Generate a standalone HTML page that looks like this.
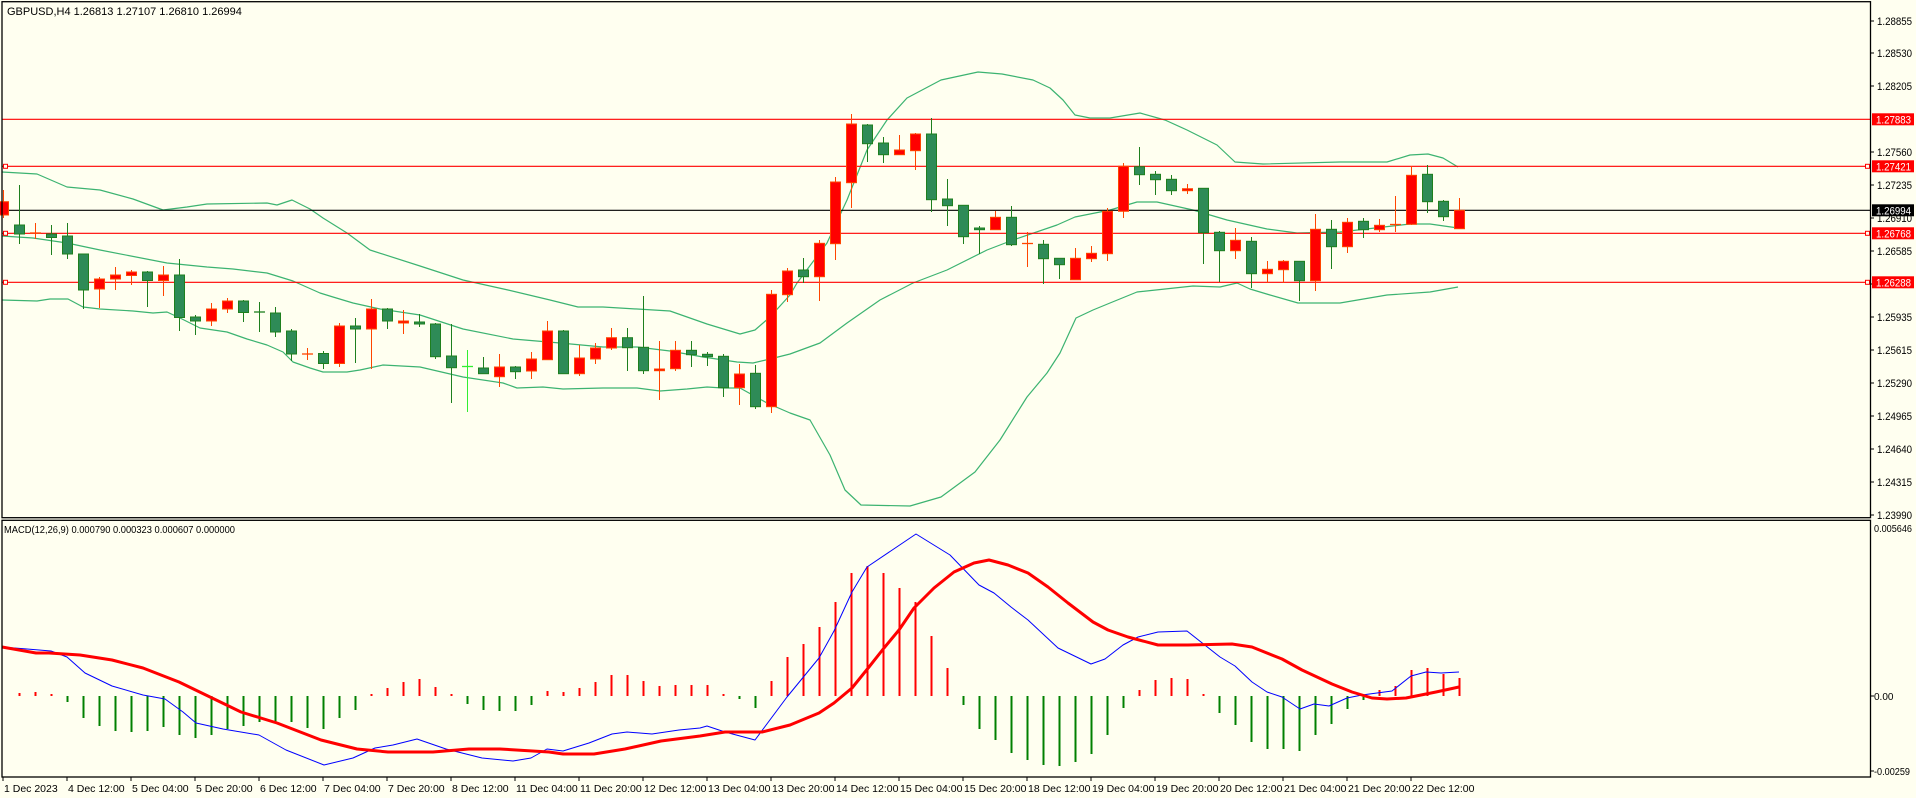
<!DOCTYPE html>
<html><head><meta charset="utf-8">
<style>
html,body{margin:0;padding:0;background:#FFFFF0;}
svg{display:block;font-family:"Liberation Sans",sans-serif;}
</style></head>
<body>
<svg id="c" width="1916" height="798" xmlns="http://www.w3.org/2000/svg"></svg>
<script>
var NS="http://www.w3.org/2000/svg",S=document.getElementById('c'),h=[];
function X(i){return 3+16*i;}
h.push('<rect x="0" y="0" width="1916" height="798" fill="#FFFFF0"/>');
var C=[['R',190,201.7,215,218],['G',185,225,234,244],['R',223,233,234,239],['G',225,234,237.5,255],['G',223,236,254,259],['G',254,254,290,309],['R',277,279,289,308],['R',267,275,279,290],['R',270,272,275.5,285],['G',271,272,280.5,307],['R',266,275,280.5,296],['G',259,275,317.5,331],['G',315,317,321,335],['R',303,309,321,326],['R',298,301,309,313],['G',300,301,312.5,322],['G',302,312,313,332],['G',307,313,332,337],['G',329,331,354,361],['R',348,354,355,360],['G',351,353.5,363.5,369],['R',323,326,363.5,367],['G',318,326,329,363],['R',299,309,329,369],['G',308,309,321,329],['R',310,321,323,334],['G',314,322,324,327],['G',323,324,356.7,359],['G',324,356,367.7,403],['L',350,366.5,367.5,412],['G',357,368,373.7,374],['R',354,367,376.7,387],['G',366,367,371.7,379],['R',352,359,371,379],['R',321,331,359.7,360],['G',330,331,373.7,374],['R',345,358,373.7,376],['R',343,348,359,364],['R',328,337.7,348,350],['G',328,337.7,347.7,371],['G',296,347.3,370.7,374],['R',341,369,370.7,400],['R',341,350.3,368.7,371],['G',341,350.3,354.7,367],['G',352,354.3,356.7,366],['G',354,356.3,387.7,397],['R',364,374,387.7,405],['G',365,373.3,406.7,409],['R',290,294.3,406.7,413],['R',268,271,294.7,302],['G',258,270,276.7,283],['R',240,243.3,276.7,301],['R',177,182,243.7,260],['R',114,124,182.7,208],['G',124,125,143.7,162],['G',137,143,154.7,163],['R',135,150,154.7,155],['R',133,134,150.7,170],['G',118,134,199.7,212],['G',179,199,205.7,226],['G',205,205.3,236.7,244],['G',226,228,229.7,254],['R',211,217.3,229.7,230],['G',206,217.3,244.7,246],['R',232,243.5,244.5,267],['G',240,244.3,258.7,284],['G',258,258.3,264.7,279],['R',248,258.3,279.7,280],['R',246,253.3,258.7,262],['R',208,211.3,253.7,261],['R',163,166.3,211.3,218],['G',147,166.7,174.7,185],['G',171,174.3,179.7,195],['G',175,179.3,190.7,195],['R',184,188.7,190.7,194],['G',188,188.3,232.7,264],['G',231,232.3,250.7,282],['R',228,240.3,250.7,259],['G',237,241.3,273.7,288],['R',261,269.3,273.7,283],['R',260,261.3,269.7,283],['G',261,261.3,280.7,301],['R',214,229.3,280.7,291],['G',220,229.3,246.7,269],['R',218,222.3,246.7,253],['G',218,221.3,229.7,238],['R',219,225.3,229.7,232],['R',196,224.5,225.5,232],['R',166,175.3,224.3,225],['G',165,174.3,201.7,213],['G',200,201.3,216.7,221],['R',198,210.3,228.7,229]];
function pl(p,col,w){return '<polyline fill="none" stroke="'+col+'" stroke-width="'+w+'" stroke-linejoin="round" points="'+p.map(function(a){return a[0]+','+a[1]}).join(' ')+'"/>';}
var up=[[2,172],[37,174],[67,187],[100,190],[133,199],[163,210],[187,207],[207,204],[267,203],[277,205],[292,200],[310,209],[323,218],[347,233],[370,250],[420,266],[463,280],[508,290],[550,300],[578,307],[603,307],[670,311],[707,324],[740,334],[755,330],[770,317],[790,295],[797,283],[827,243],[847,200],[867,150],[887,120],[907,98],[941,80],[978,72],[1002,74],[1033,80],[1050,88],[1063,100],[1075,115],[1090,118],[1110,118],[1140,113],[1165,120],[1187,130],[1217,145],[1235,162],[1263,164],[1340,162],[1387,162],[1410,155],[1428,154],[1443,158],[1458,167]];
var mid=[[2,236],[33,238],[67,243],[100,250],[167,263],[207,267],[233,269],[267,273],[293,281],[320,293],[333,297],[353,303],[380,309],[420,315],[463,329],[513,339],[560,343],[603,347],[637,347],[670,351],[703,357],[737,362],[753,363],[770,359],[790,354],[820,343],[847,323],[880,300],[913,283],[947,270],[987,250],[1013,240],[1057,225],[1075,217],[1110,210],[1137,202],[1157,202],[1193,210],[1227,220],[1267,229],[1297,233],[1340,232],[1410,224],[1430,224],[1458,228]];
var lo=[[2,300],[37,301],[50,299],[68,299],[83,307],[100,309],[133,311],[153,313],[167,312],[180,318],[200,328],[227,332],[247,339],[267,345],[283,352],[293,362],[310,368],[323,372],[347,372],[360,370],[383,365],[420,367],[463,377],[503,383],[517,388],[543,387],[563,389],[603,388],[637,388],[660,391],[687,389],[707,387],[723,388],[740,388],[767,403],[790,413],[810,420],[830,455],[845,490],[861,505],[910,506],[941,497],[975,472],[1000,440],[1027,397],[1047,373],[1060,353],[1076,318],[1093,310],[1110,303],[1137,292],[1193,286],[1220,287],[1237,283],[1250,289],[1270,295],[1298,303],[1340,303],[1387,295],[1430,292],[1458,287]];
h.push(pl(up,'#3CB371',1.2),pl(mid,'#3CB371',1.2),pl(lo,'#3CB371',1.2));
[119.3,166.3,233.3,282.3].forEach(function(y){h.push('<line x1="2" x2="1870" y1="'+y+'" y2="'+y+'" stroke="#FF0000" stroke-width="1.2"/>');});
h.push('<line x1="2" x2="1870" y1="210.3" y2="210.3" stroke="#000" stroke-width="1.2"/>');
[166.3,233.3,282.3].forEach(function(y){h.push('<rect x="3.5" y="'+(y-2)+'" width="4" height="4" fill="#FFFFF0" stroke="#FF0000" stroke-width="1"/><rect x="1865.5" y="'+(y-2)+'" width="4" height="4" fill="#FFFFF0" stroke="#FF0000" stroke-width="1"/>');});
C.forEach(function(c,i){var x=X(i),wc,fc,bc;
 if(c[0]=='G'){wc='#1E7F1E';fc='#2E8B57';bc='#1E7F1E';}else if(c[0]=='R'){wc='#FF4500';fc='#FF0000';bc='#FF4500';}else{wc='#32EE32';fc='#32EE32';bc='#32EE32';}
 h.push('<line x1="'+(x+0.5)+'" x2="'+(x+0.5)+'" y1="'+c[1]+'" y2="'+c[4]+'" stroke="'+wc+'" stroke-width="1"/>');
 var ht=Math.max(c[3]-c[2],1);
 if(ht<=1.2) h.push('<line x1="'+(x-5)+'" x2="'+(x+6)+'" y1="'+c[2]+'" y2="'+c[2]+'" stroke="'+bc+'" stroke-width="1.3"/>');
 else h.push('<rect x="'+(x-4.5)+'" y="'+c[2]+'" width="10" height="'+ht+'" fill="'+fc+'" stroke="'+bc+'" stroke-width="1"/>');
});
var H=[null,693,692,694,702,718,726,731,732,731,727,735,738,735,729,726,722,722,722,728,729,718,710,695,688,682,679,687,695,704,710,711,711,705,691,692,688,682,675,675,681,686,685,685,685,695,699,708,681,657,644,627,602,573,566,573,588,602,636,668,705,729,740,753,760,765,766,762,754,735,708,690,680,678,679,694,713,725,742,749,749,751,735,724,709,700,690,686,670,668,674,678];
H.forEach(function(v,i){if(v==null)return;var x=X(i)+0.5;var col=v<696?'#FF0000':'#008000';if(Math.abs(v-696)<1.5)v=v<696?694:698;
 h.push('<line x1="'+x+'" x2="'+x+'" y1="696" y2="'+v+'" stroke="'+col+'" stroke-width="2"/>');});
var sig=[[2,647],[36,653],[49,653],[80,655],[112,660],[143,668],[179,682],[210,697],[241,712],[277,723],[321,740],[357,749],[388,752],[433,752],[469,749],[500,749],[549,752],[563,754],[594,754],[625,749],[661,741],[700,736],[725,732],[762,732],[790,725],[819,713],[834,703],[852,688],[869,667],[884,648],[899,630],[914,608],[934,588],[954,572],[974,563],[989,560],[1008,565],[1028,573],[1048,587],[1068,603],[1093,622],[1108,630],[1128,637],[1158,645],[1188,645],[1232,644],[1252,647],[1282,659],[1302,670],[1332,684],[1352,692],[1372,698],[1387,699],[1406,698],[1436,692],[1459,687]];
var mac=[[2,647],[27,649],[51,651],[67,657],[85,673],[112,686],[143,695],[165,699],[183,712],[196,723],[223,729],[259,735],[286,750],[324,765],[353,758],[375,748],[393,745],[417,739],[446,749],[482,758],[513,761],[531,758],[547,749],[563,751],[589,743],[612,734],[627,732],[652,734],[679,730],[700,728],[707,726],[725,732],[755,740],[787,697],[819,658],[834,631],[852,592],[867,567],[916,534],[950,555],[979,585],[994,593],[1011,607],[1028,620],[1058,648],[1091,664],[1105,659],[1123,645],[1138,637],[1158,632],[1187,631],[1220,657],[1235,666],[1252,682],[1267,692],[1282,697],[1300,709],[1314,704],[1329,706],[1347,698],[1362,695],[1392,691],[1411,676],[1426,672],[1441,673],[1459,672]];
h.push(pl(mac,'#0000FF',1),pl(sig,'#FF0000',3));
h.push('<rect x="2" y="1.7" width="1868.5" height="516" fill="none" stroke="#000" stroke-width="1.3"/>');
h.push('<rect x="2" y="520.3" width="1868.5" height="256.7" fill="none" stroke="#000" stroke-width="1.3"/>');
var P=[['1.28855',21],['1.28530',53],['1.28205',86],['1.27560',152],['1.27235',185],['1.26910',218],['1.26585',251],['1.26260',284],['1.25935',317],['1.25615',350],['1.25290',383],['1.24965',416],['1.24640',449],['1.24315',482],['1.23990',515]];
P.forEach(function(p){h.push('<line x1="1871" x2="1874" y1="'+p[1]+'" y2="'+p[1]+'" stroke="#000"/><text x="1877" y="'+(p[1]+4)+'" font-size="11" fill="#000" textLength="35" lengthAdjust="spacingAndGlyphs">'+p[0]+'</text>');});
[['1.27883',119.3,'#FF0000'],['1.27421',166.3,'#FF0000'],['1.26994',210.3,'#000'],['1.26768',233.3,'#FF0000'],['1.26288',282.3,'#FF0000']].forEach(function(b){
 h.push('<rect x="1872" y="'+(b[1]-6)+'" width="42" height="12" fill="'+b[2]+'"/><text x="1876" y="'+(b[1]+4)+'" font-size="11" fill="#fff" textLength="35" lengthAdjust="spacingAndGlyphs">'+b[0]+'</text>');});
h.push('<text x="1874" y="532" font-size="10" fill="#000" textLength="38" lengthAdjust="spacingAndGlyphs">0.005646</text>');
h.push('<line x1="1871" x2="1874" y1="696" y2="696" stroke="#000"/><text x="1874" y="700" font-size="10" fill="#000">0.00</text>');
h.push('<line x1="1871" x2="1874" y1="771" y2="771" stroke="#000"/><text x="1874" y="775" font-size="10" fill="#000" textLength="36" lengthAdjust="spacingAndGlyphs">-0.00259</text>');
var D=['1 Dec 2023','4 Dec 12:00','5 Dec 04:00','5 Dec 20:00','6 Dec 12:00','7 Dec 04:00','7 Dec 20:00','8 Dec 12:00','11 Dec 04:00','11 Dec 20:00','12 Dec 12:00','13 Dec 04:00','13 Dec 20:00','14 Dec 12:00','15 Dec 04:00','15 Dec 20:00','18 Dec 12:00','19 Dec 04:00','19 Dec 20:00','20 Dec 12:00','21 Dec 04:00','21 Dec 20:00','22 Dec 12:00'];
D.forEach(function(d,k){var x=3+64*k;h.push('<line x1="'+x+'" x2="'+x+'" y1="777" y2="781" stroke="#000"/><text x="'+(x+1)+'" y="792" font-size="10.5" fill="#000">'+d+'</text>');});
h.push('<text x="7" y="15" font-size="11" fill="#000">GBPUSD,H4  1.26813 1.27107 1.26810 1.26994</text>');
h.push('<text x="4" y="533" font-size="10" fill="#000" textLength="231" lengthAdjust="spacingAndGlyphs">MACD(12,26,9) 0.000790 0.000323 0.000607 0.000000</text>');
S.innerHTML=h.join('');
</script>
</body></html>
